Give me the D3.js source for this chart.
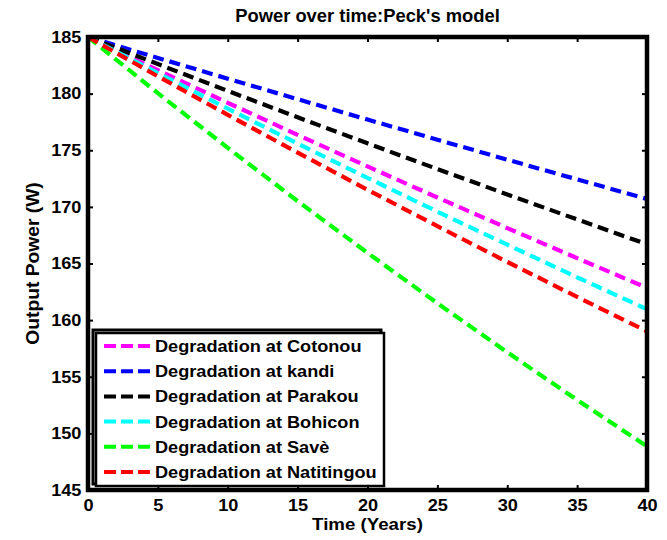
<html>
<head>
  <meta charset="utf-8">
  <title>Power over time: Peck's model</title>
  <script src="https://cdn.jsdelivr.net/npm/d3@7"></script>
  <style>
    body { margin: 0; background: #fff; }
    text { font-family: "Liberation Sans", Arial, sans-serif; font-weight: bold; }
  </style>
</head>
<body>
  <script>
    // Størrelse
    const w = 667;
    const h = 540;
    const padLeft = 88, padRight = 647, padTop = 37, padBottom = 490;
    const stretch = 1.1; // MATLAB-teksten er lidt bredere

    // Data (hvert 5. år)
    const years = [0, 5, 10, 15, 20, 25, 30, 35, 40];
    const cotonou = [185, 182.07, 179.19, 176.36, 173.57, 170.83, 168.13, 165.47, 162.85];
    const kandi = [185, 183.15, 181.32, 179.51, 177.71, 175.93, 174.17, 172.43, 170.70];
    const parakou = [185, 182.61, 180.24, 177.91, 175.61, 173.34, 171.10, 168.89, 166.70];
    const bohicon = [185, 181.81, 178.67, 175.59, 172.56, 169.58, 166.66, 163.78, 160.96];
    const save = [185, 180.04, 175.21, 170.51, 165.94, 161.49, 157.16, 152.95, 148.85];
    const natitingou = [185, 181.53, 178.13, 174.79, 171.51, 168.30, 165.14, 162.05, 159.01];

    const names = ["Degradation at Cotonou", "Degradation at kandi", "Degradation at Parakou",
      "Degradation at Bohicon", "Degradation at Savè", "Degradation at Natitingou"];
    const colors = ["#ff00ff", "#0000ff", "#000000", "#00ffff", "#00ff00", "#ff0000"];
    const seriesValues = [cotonou, kandi, parakou, bohicon, save, natitingou];

    const xTicks = [0, 5, 10, 15, 20, 25, 30, 35, 40];
    const yTicks = [145, 150, 155, 160, 165, 170, 175, 180, 185];

    // Skalaer
    const x = d3.scaleLinear().domain([0, 40]).range([padLeft, padRight]);
    const y = d3.scaleLinear().domain([145, 185]).range([padBottom, padTop]);

    const svg = d3.select("body").append("svg")
      .attr("width", w)
      .attr("height", h);

    svg.append("rect").attr("width", w).attr("height", h).attr("fill", "#fff");

    // Linjer
    const line = d3.line()
      .x((d, i) => x(years[i]))
      .y(d => y(d));

    svg.selectAll("path.serie")
      .data(seriesValues)
      .enter()
      .append("path")
      .attr("class", "serie")
      .attr("d", line)
      .attr("fill", "none")
      .attr("stroke", (d, i) => colors[i])
      .attr("stroke-width", 4.2)
      .attr("stroke-dasharray", "11,6");

    // Akser (MATLAB-boks med ticks indad)
    const tickStyle = g => {
      g.select(".domain").remove();
      g.selectAll(".tick line").attr("stroke", "#000").attr("stroke-width", 2);
      g.selectAll(".tick text").attr("fill", "#000").attr("font-size", 16.5).attr("font-weight", "bold")
        .attr("font-family", "Liberation Sans, Arial, sans-serif");
    };

    const xAxisG = svg.append("g")
      .attr("transform", "translate(0," + padBottom + ")")
      .call(d3.axisBottom(x).tickValues(xTicks).tickSize(-5).tickPadding(9))
      .call(tickStyle);
    xAxisG.selectAll(".tick text").attr("transform", "scale(" + stretch + ",1)");

    svg.append("g")
      .attr("transform", "translate(0," + padTop + ")")
      .call(d3.axisTop(x).tickValues(xTicks).tickSize(-5).tickFormat(""))
      .call(tickStyle);

    const yAxisG = svg.append("g")
      .attr("transform", "translate(" + padLeft + ",0)")
      .call(d3.axisLeft(y).tickValues(yTicks).tickSize(-5).tickPadding(6))
      .call(tickStyle);
    yAxisG.selectAll(".tick text").attr("transform", "scale(" + stretch + ",1)");

    svg.append("g")
      .attr("transform", "translate(" + padRight + ",0)")
      .call(d3.axisRight(y).tickValues(yTicks).tickSize(-5).tickFormat(""))
      .call(tickStyle);

    // Ramme
    svg.append("rect")
      .attr("x", padLeft)
      .attr("y", padTop)
      .attr("width", padRight - padLeft)
      .attr("height", padBottom - padTop)
      .attr("fill", "none")
      .attr("stroke", "#000")
      .attr("stroke-width", 4.5);

    // Titel og aksetitler
    svg.append("text")
      .attr("transform", "translate(" + ((padLeft + padRight) / 2) + ",22) scale(1.05,1)")
      .attr("text-anchor", "middle")
      .attr("font-size", 17.5)
      .text("Power over time:Peck's model");

    svg.append("text")
      .attr("transform", "translate(" + ((padLeft + padRight) / 2) + ",530) scale(" + stretch + ",1)")
      .attr("text-anchor", "middle")
      .attr("font-size", 17)
      .text("Time (Years)");

    svg.append("text")
      .attr("transform", "translate(39," + ((padTop + padBottom) / 2) + ") rotate(-90) scale(" + stretch + ",1)")
      .attr("text-anchor", "middle")
      .attr("font-size", 17.5)
      .text("Output Power (W)");

    // Legend
    const lg = svg.append("g");
    lg.append("rect")
      .attr("x", 93).attr("y", 330).attr("width", 288).attr("height", 154)
      .attr("fill", "#fff").attr("stroke", "#000").attr("stroke-width", 3);
    lg.append("rect")
      .attr("x", 96).attr("y", 333).attr("width", 288).attr("height", 153)
      .attr("fill", "#fff").attr("stroke", "#000").attr("stroke-width", 2.5);

    const rows = lg.selectAll("g.row")
      .data(names)
      .enter()
      .append("g")
      .attr("class", "row")
      .attr("transform", (d, i) => "translate(0," + (346 + i * 25.2) + ")");

    rows.append("line")
      .attr("x1", 104).attr("x2", 150)
      .attr("stroke", (d, i) => colors[i])
      .attr("stroke-width", 4)
      .attr("stroke-dasharray", "12,5");

    rows.append("text")
      .attr("transform", "translate(155,0) scale(" + stretch + ",1)")
      .attr("dy", "0.36em")
      .attr("font-size", 16.5)
      .text(d => d);
  </script>
</body>
</html>
